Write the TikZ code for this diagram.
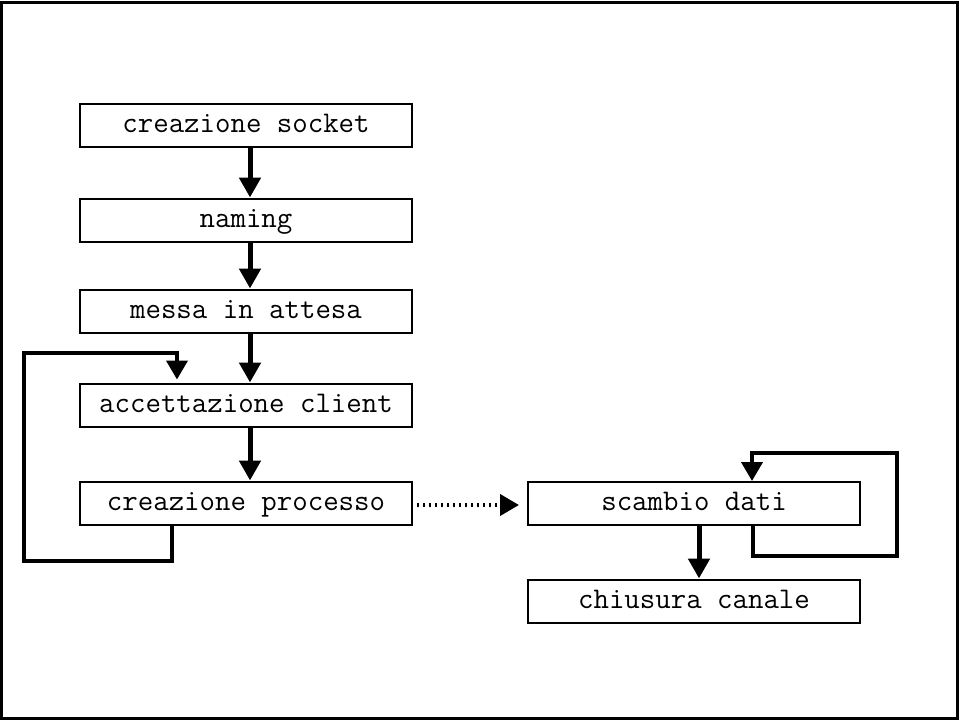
\documentclass[tikz,border=0pt]{standalone}
\usetikzlibrary{arrows.meta,calc}
\begin{document}
\begin{tikzpicture}[x=1pt,y=-1pt,
  stepbox/.style={draw,line width=2pt,minimum width=332pt,minimum height=43pt,
    inner sep=0pt,text height=16pt,text depth=2pt,
    font=\ttfamily\fontsize{30}{34}\selectfont},
  flow/.style={line width=5pt,-{Triangle[length=20pt,width=21pt]}},
  loopline/.style={line width=4pt,line join=miter,-{Triangle[length=19pt,width=21pt]}},
  spawn/.style={line width=4pt,dash pattern=on 2pt off 4pt,-{Triangle[length=19pt,width=21pt]}}]
\useasboundingbox (0,0) rectangle (959,720);
\draw[line width=2.5pt] (1.5,2.5) rectangle (957.5,718.5);

% server column
\node[stepbox] (sock) at (246,125) {creazione socket};
\node[stepbox] (nam)  at (246,220) {naming};
\node[stepbox] (wait) at (246,311) {messa in attesa};
\node[stepbox] (acc)  at (246,405) {accettazione client};
\node[stepbox] (proc) at (246,503) {creazione processo};

% child process column
\node[stepbox] (data)  at (694,503.5) {scambio dati};
\node[stepbox] (close) at (694,601) {chiusura canale};

% main sequence
\foreach \a/\b in {sock/nam, nam/wait, wait/acc, acc/proc}
  \draw[flow] ($(\a.south)+(4,0)$) -- ($(\b.north)+(4,0)$);
\draw[flow] ($(data.south)+(5,0)$) -- ($(close.north)+(5,0)$);

% accept loop
\draw[loopline] ($(proc.south west)+(93,0)$) -- ++(0,35) -| (24,353)
  -| ($(acc.north west)+(98,-3)$);

% data exchange loop
\draw[loopline] ($(data.south west)+(226,0)$) -- ++(0,30) -| (897,453)
  -| ($(data.north west)+(225,0)$);

% fork to child process
\draw[spawn] ($(proc.east)+(4,2)$) -- ($(data.west)+(-8,1.5)$);
\end{tikzpicture}
\end{document}
